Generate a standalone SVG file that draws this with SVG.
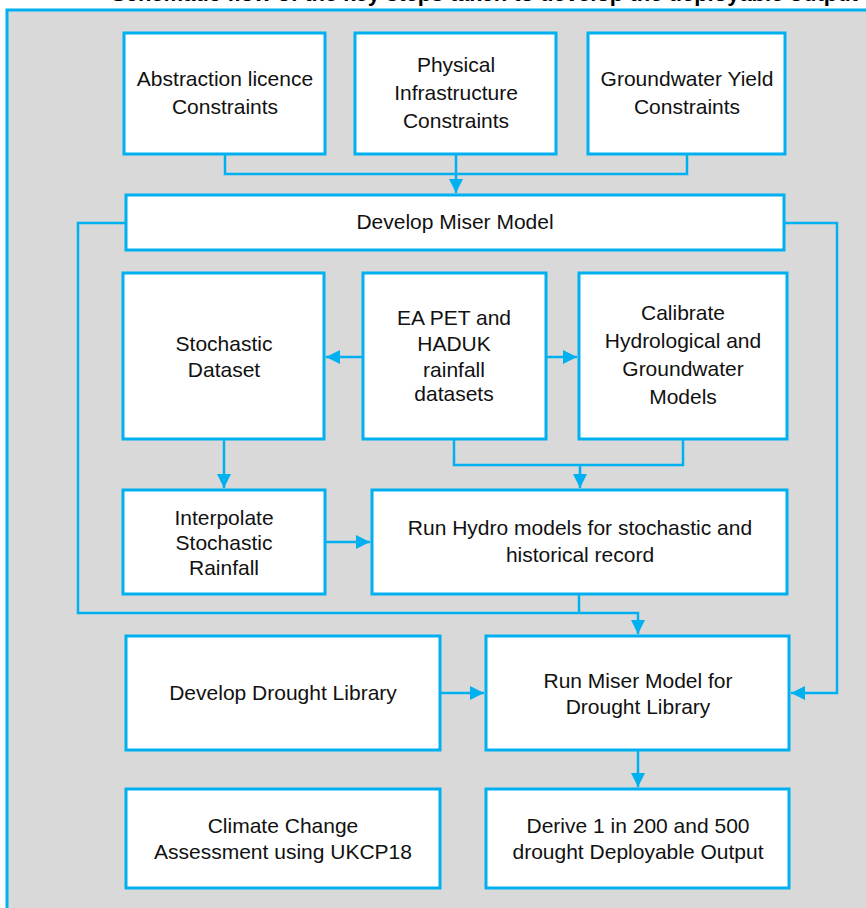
<svg xmlns="http://www.w3.org/2000/svg" width="866" height="908" viewBox="0 0 866 908">
<defs>
<style>
.box{fill:#fff;stroke:#00B0F0;stroke-width:3}
.ln{fill:none;stroke:#00B0F0;stroke-width:2.5}
.t{font-family:"Liberation Sans",Arial,sans-serif;font-size:21px;fill:#111;text-anchor:middle}
.title{font-family:"Liberation Sans",Arial,sans-serif;font-size:22px;font-weight:bold;fill:#000}
</style>
<marker id="ah" markerUnits="userSpaceOnUse" markerWidth="14" markerHeight="14" refX="12" refY="6" orient="auto" viewBox="0 0 12 12">
<path d="M0,0 L12,6 L0,12 z" fill="#00B0F0"/>
</marker>
</defs>
<rect x="0" y="0" width="866" height="908" fill="#fff"/>
<text class="title" x="111" y="1">Schematic flow of the key steps taken to develop the deployable output</text>
<rect x="7" y="10" width="900" height="950" fill="#D9D9D9" stroke="#00B0F0" stroke-width="3"/>

<g id="connectors">
<path class="ln" d="M225,154 V174 H687 V154"/>
<path class="ln" d="M456,154 V193" marker-end="url(#ah)"/>
<path class="ln" d="M126,223 H78 V613 H638 V634" marker-end="url(#ah)"/>
<path class="ln" d="M579,594 V613"/>
<path class="ln" d="M784,223 H837 V693 H791" marker-end="url(#ah)"/>
<path class="ln" d="M363,357 H326" marker-end="url(#ah)"/>
<path class="ln" d="M546,357 H577" marker-end="url(#ah)"/>
<path class="ln" d="M454,439 V465 H683 V439"/>
<path class="ln" d="M580,465 V488" marker-end="url(#ah)"/>
<path class="ln" d="M224,439 V488" marker-end="url(#ah)"/>
<path class="ln" d="M325,542 H370" marker-end="url(#ah)"/>
<path class="ln" d="M440,693 H484" marker-end="url(#ah)"/>
<path class="ln" d="M638,750 V787" marker-end="url(#ah)"/>
</g>

<g id="abstraction">
<rect class="box" x="124" y="33" width="201" height="121"/>
<text class="t" x="225" y="86">Abstraction licence</text>
<text class="t" x="225" y="114">Constraints</text>
</g>
<g id="physical">
<rect class="box" x="355" y="33" width="201" height="121"/>
<text class="t" x="456" y="72">Physical</text>
<text class="t" x="456" y="100">Infrastructure</text>
<text class="t" x="456" y="128">Constraints</text>
</g>
<g id="groundwater">
<rect class="box" x="588" y="33" width="197" height="121"/>
<text class="t" x="687" y="86">Groundwater Yield</text>
<text class="t" x="687" y="114">Constraints</text>
</g>
<g id="develop-miser">
<rect class="box" x="126" y="195" width="658" height="55"/>
<text class="t" x="455" y="229">Develop Miser Model</text>
</g>
<g id="stochastic">
<rect class="box" x="123" y="273" width="201" height="166"/>
<text class="t" x="224" y="351">Stochastic</text>
<text class="t" x="224" y="377">Dataset</text>
</g>
<g id="ea-pet">
<rect class="box" x="363" y="273" width="183" height="166"/>
<text class="t" x="454" y="325">EA PET and</text>
<text class="t" x="454" y="351">HADUK</text>
<text class="t" x="454" y="377">rainfall</text>
<text class="t" x="454" y="401">datasets</text>
</g>
<g id="calibrate">
<rect class="box" x="579" y="273" width="208" height="166"/>
<text class="t" x="683" y="320">Calibrate</text>
<text class="t" x="683" y="348">Hydrological and</text>
<text class="t" x="683" y="376">Groundwater</text>
<text class="t" x="683" y="404">Models</text>
</g>
<g id="interpolate">
<rect class="box" x="123" y="490" width="202" height="104"/>
<text class="t" x="224" y="525">Interpolate</text>
<text class="t" x="224" y="550">Stochastic</text>
<text class="t" x="224" y="575">Rainfall</text>
</g>
<g id="run-hydro">
<rect class="box" x="372" y="490" width="415" height="104"/>
<text class="t" x="580" y="535">Run Hydro models for stochastic and</text>
<text class="t" x="580" y="562">historical record</text>
</g>
<g id="drought-library">
<rect class="box" x="126" y="636" width="314" height="114"/>
<text class="t" x="283" y="700">Develop Drought Library</text>
</g>
<g id="run-miser">
<rect class="box" x="486" y="636" width="303" height="114"/>
<text class="t" x="638" y="688">Run Miser Model for</text>
<text class="t" x="638" y="714">Drought Library</text>
</g>
<g id="climate">
<rect class="box" x="126" y="789" width="314" height="99"/>
<text class="t" x="283" y="833">Climate Change</text>
<text class="t" x="283" y="859">Assessment using UKCP18</text>
</g>
<g id="derive">
<rect class="box" x="486" y="789" width="303" height="99"/>
<text class="t" x="638" y="833">Derive 1 in 200 and 500</text>
<text class="t" x="638" y="859">drought Deployable Output</text>
</g>
</svg>
